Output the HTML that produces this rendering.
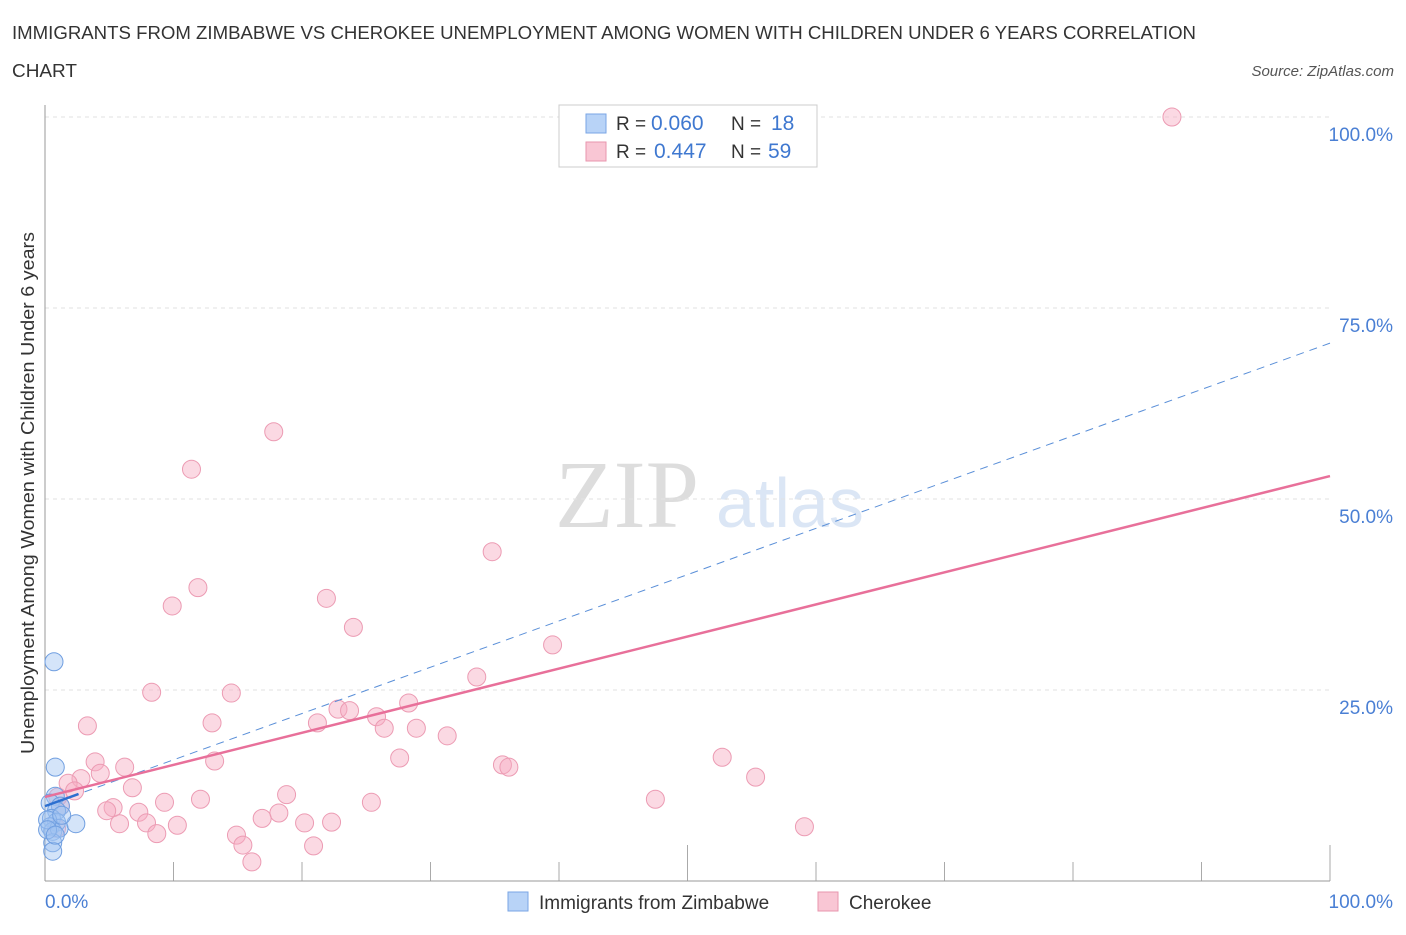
<!DOCTYPE html>
<html><head><meta charset="utf-8"><style>
body{margin:0;background:#fff;font-family:"Liberation Sans",sans-serif}
</style></head><body>
<svg id="chart" width="1406" height="930" xmlns="http://www.w3.org/2000/svg" font-family="Liberation Sans, sans-serif">
<text x="12" y="39" font-size="18" fill="#333" textLength="1184" lengthAdjust="spacingAndGlyphs">IMMIGRANTS FROM ZIMBABWE VS CHEROKEE UNEMPLOYMENT AMONG WOMEN WITH CHILDREN UNDER 6 YEARS CORRELATION</text>
<text x="12" y="77" font-size="18" fill="#333" textLength="65" lengthAdjust="spacingAndGlyphs">CHART</text>
<text x="1394" y="76" font-size="15" fill="#555" font-style="italic" text-anchor="end">Source: ZipAtlas.com</text>
<text x="555" y="527" font-size="96" fill="#ddd" font-family="Liberation Serif, serif">ZIP</text>
<text x="716" y="527" font-size="70" fill="#dbe6f5">atlas</text>
<g id="grid"></g>
<line x1="45" y1="881" x2="1330" y2="881" stroke="#999"/>
<line x1="45" y1="105" x2="45" y2="881" stroke="#999"/>
<g id="marks"></g>
<text transform="translate(34,493) rotate(-90)" font-size="18" fill="#333" text-anchor="middle" textLength="522" lengthAdjust="spacingAndGlyphs">Unemployment Among Women with Children Under 6 years</text>
<text x="45" y="908" font-size="19" fill="#4a7fd4">0.0%</text>
<text x="1393" y="908" font-size="19" fill="#4a7fd4" text-anchor="end">100.0%</text>
<g>
<rect x="559" y="105" width="258" height="62" fill="#fff" stroke="#ccc"/>
<rect x="586" y="114" width="20" height="19" fill="#b8d3f7" stroke="#7aa6e4"/>
<rect x="586" y="142" width="20" height="19" fill="#f9c6d4" stroke="#e896ae"/>
<text x="616" y="130" font-size="19" fill="#333">R =</text>
<text x="651" y="130" font-size="21" fill="#3f78d0">0.060</text>
<text x="731" y="130" font-size="19" fill="#333">N =</text>
<text x="771" y="130" font-size="21" fill="#3f78d0">18</text>
<text x="616" y="158" font-size="19" fill="#333">R =</text>
<text x="654" y="158" font-size="21" fill="#3f78d0">0.447</text>
<text x="731" y="158" font-size="19" fill="#333">N =</text>
<text x="768" y="158" font-size="21" fill="#3f78d0">59</text>
</g>
<g>
<rect x="508" y="892" width="20" height="19" fill="#b8d3f7" stroke="#7aa6e4"/>
<text x="539" y="909" font-size="19" fill="#333">Immigrants from Zimbabwe</text>
<rect x="818" y="892" width="20" height="19" fill="#f9c6d4" stroke="#e896ae"/>
<text x="849" y="909" font-size="19" fill="#333">Cherokee</text>
</g>
</svg>
<script>
const yTicks=[25,50,75,100];
const yTickLabels=["25.0%","50.0%","75.0%","100.0%"];
const xTicks=[0,10,20,30,40,50,60,70,80,90,100];
const pinkX=[87.7,17.8,11.4,34.8,11.9,9.9,21.9,24.0,39.5,33.6,8.3,14.5,28.3,22.8,23.7,25.8,3.3,13.0,21.2,26.4,28.9,31.3,13.2,27.6,52.7,35.6,36.1,3.9,6.2,4.3,55.3,2.8,1.8,6.8,2.3,18.8,12.1,9.3,25.4,47.5,5.3,4.8,7.3,18.2,16.9,20.2,22.3,5.8,7.9,10.3,59.1,0.9,14.9,8.7,15.4,20.9,16.1,1.2,1.0];
const pinkY=[100,58.8,53.9,43.1,38.4,36.0,37.0,33.2,30.9,26.7,24.7,24.6,23.3,22.5,22.3,21.5,20.3,20.7,20.7,20.0,20.0,19.0,15.7,16.1,16.2,15.2,14.9,15.6,14.9,14.1,13.6,13.4,12.8,12.2,11.8,11.3,10.7,10.3,10.3,10.7,9.6,9.2,9.0,8.9,8.2,7.6,7.7,7.5,7.6,7.3,7.1,6.9,6.0,6.2,4.7,4.6,2.5,9.8,11.0];
const blueX=[0.7,0.8,0.8,0.4,1.2,0.9,0.5,0.9,0.4,0.6,1.1,2.4,0.6,0.6,0.2,0.2,0.8,1.3];
const blueY=[28.7,14.9,11.1,10.2,9.8,9.2,8.2,7.7,7.1,6.5,6.9,7.5,5.0,3.9,8.0,6.7,6.0,8.6];
const pinkTrend=[11.0,53.0];
const blueTrend=[9.8,70.4];
const xs=v=>45+v*12.85, ys=v=>881-v*7.64;
const NS="http://www.w3.org/2000/svg";
const grid=document.getElementById('grid'), marks=document.getElementById('marks'), svg=document.getElementById('chart');
function mk(tag,attrs,parent){const e=document.createElementNS(NS,tag);for(const k in attrs)e.setAttribute(k,attrs[k]);parent.appendChild(e);return e;}
yTicks.forEach((t,i)=>{
 const l=mk('line',{x1:45,x2:1330,y1:ys(t),y2:ys(t),stroke:'#e2e2e2','stroke-dasharray':'4,4'},grid);
 
 
 const tx=mk('text',{x:1393,y:ys(t)+24,'font-size':19,fill:'#4a7fd4','text-anchor':'end'},svg);
 tx.textContent=yTickLabels[i];
 
 
});
xTicks.forEach(t=>{
 const l=mk('line',{x1:xs(t),x2:xs(t),y1:(t===50||t===100)?845:862,y2:881,stroke:'#aaa'},grid);
 
 
});
pinkX.forEach((x,i)=>{
 const c=mk('circle',{cx:xs(x),cy:ys(pinkY[i]),r:9,fill:'rgba(246,170,194,0.45)',stroke:'#ec9bb3','stroke-width':1},marks);
 
 
});
blueX.forEach((x,i)=>{
 const c=mk('circle',{cx:xs(x),cy:ys(blueY[i]),r:9,fill:'rgba(160,196,242,0.45)',stroke:'#6f9ee0','stroke-width':1},marks);
 
 
});
let l=mk('line',{x1:xs(0),y1:ys(blueTrend[0]),x2:xs(100),y2:ys(blueTrend[1]),stroke:'#5a8fd8','stroke-width':1,'stroke-dasharray':'8,6'},marks);


l=mk('line',{x1:xs(0),y1:ys(pinkTrend[0]),x2:xs(100),y2:ys(pinkTrend[1]),stroke:'#e8709a','stroke-width':2.5},marks);


l=mk('line',{x1:xs(0),y1:ys(blueTrend[0]),x2:xs(2.6),y2:ys(blueTrend[0]+(blueTrend[1]-blueTrend[0])*0.026),stroke:'#2c6fd0','stroke-width':2.5},marks);


</script>
</body></html>
